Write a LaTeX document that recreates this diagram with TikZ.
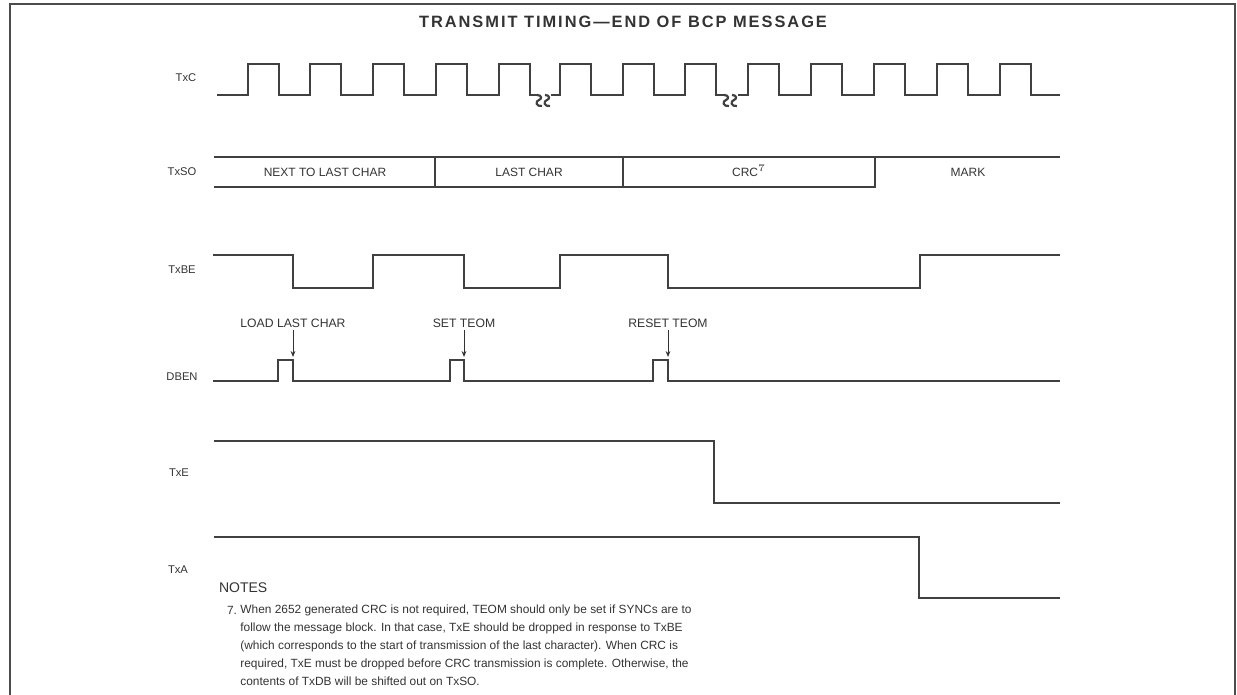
\documentclass[tikz,border=0pt]{standalone}
\usepackage{fontspec}
\setmainfont{Liberation Sans}
\usepackage{tikz}
\usetikzlibrary{arrows.meta, positioning}

\begin{document}
\begin{tikzpicture}[x=0.5pt, y=-0.5pt,
    sig/.style={line width=1.4pt, draw=black!75, line join=miter},
    lbl/.style={font=\fontsize{5.6}{6}\selectfont, text=black!80, inner sep=0pt},
    fld/.style={font=\fontsize{6}{7}\selectfont, text=black!80, inner sep=0pt},
    evt/.style={font=\fontsize{6.1}{7}\selectfont, text=black!80, inner sep=1pt}]
    \useasboundingbox (0,0) rectangle (1237,695);
    \draw[line width=1pt, black!70] (10,695) -- (10,4) -- (1235,4) -- (1235,695);

    \node[font=\bfseries\fontsize{8.2}{9}\selectfont\addfontfeature{LetterSpace=12},
          text=black!80](title) at (623,22) {TRANSMIT TIMING---END OF BCP MESSAGE};

    \node[lbl](lTxC) at (186,78) {TxC};
    \node[lbl](lTxSO) at (182,172) {TxSO};
    \node[lbl](lTxBE) at (182,270) {TxBE};
    \node[lbl](lDBEN) at (182,377) {DBEN};
    \node[lbl](lTxE) at (179,473) {TxE};
    \node[lbl](lTxA) at (178,570) {TxA};

    \draw[sig] (217,95) \foreach \r in {248,310,373,436,499}
        {-- (\r,95) -- (\r,64) -- ({\r+31},64) -- ({\r+31},95)} -- (537,95);
    \draw[sig] (551,95) \foreach \r in {560,623,685}
        {-- (\r,95) -- (\r,64) -- ({\r+31},64) -- ({\r+31},95)} -- (724,95);
    \draw[sig] (738,95) \foreach \r in {748,811,874,937,1000}
        {-- (\r,95) -- (\r,64) -- ({\r+31},64) -- ({\r+31},95)} -- (1060,95);
    \foreach \s in {537,545,724,732}
        \draw[line width=1.1pt, black!75] (\s,95) .. controls ({\s+5},95) and ({\s+5},99) .. ({\s+2},100)
             .. controls ({\s-2},101) and ({\s-1},107) .. ({\s+5},106);

    \draw[sig] (214,157) -- (1060,157);
    \draw[sig] (214,187) -- (875,187) -- (875,157);
    \draw[sig] (435,157) -- (435,187);
    \draw[sig] (623,157) -- (623,187);
    \node[fld](fNext) at (325,172) {NEXT TO LAST CHAR};
    \node[fld](fLast) at (529,172) {LAST CHAR};
    \node[fld](fCrc) at (749,171) {CRC$^{7}$};
    \node[fld](fMark) at (968,172) {MARK};

    \draw[sig] (213,255) -- (293,255) -- (293,288) -- (373,288) -- (373,255) -- (464,255)
        -- (464,288) -- (560,288) -- (560,255) -- (668,255) -- (668,288) -- (920,288)
        -- (920,255) -- (1060,255);

    \draw[sig] (213,381) -- (278,381) -- (278,360) -- (293,360) -- (293,381) -- (450,381)
        -- (450,360) -- (464,360) -- (464,381) -- (653,381) -- (653,360) -- (668,360)
        -- (668,381) -- (1060,381);
    \coordinate (pLoad) at (293,357);
    \coordinate (pSet) at (464,357);
    \coordinate (pReset) at (668,357);
    \node[evt](eLoad) at (293,323) {LOAD LAST CHAR};
    \node[evt](eSet) at (464,323) {SET TEOM};
    \node[evt](eReset) at (668,323) {RESET TEOM};
    \foreach \e/\p in {eLoad/pLoad, eSet/pSet, eReset/pReset}
        \draw[line width=0.5pt, black!80, -{Stealth[length=3pt, width=2.4pt]}]
            (\e.south) -- (\p);

    \draw[sig] (214,441) -- (714,441) -- (714,503) -- (1060,503);
    \draw[sig] (214,537) -- (919,537) -- (919,598) -- (1060,598);

    \node[font=\fontsize{7}{8}\selectfont, text=black!80, anchor=west](notes) at (212,588) {NOTES};
    \node[font=\fontsize{5.95}{9}\selectfont, text=black!80, anchor=west](n7) at (220,610) {7.};
    \node[font=\fontsize{5.95}{9}\selectfont, text=black!80, anchor=north west, align=left,
          inner sep=0pt](note) at (240,604)
         {When 2652 generated CRC is not required, TEOM should only be set if SYNCs are to\\
          follow the message block. In that case, TxE should be dropped in response to TxBE\\
          (which corresponds to the start of transmission of the last character). When CRC is\\
          required, TxE must be dropped before CRC transmission is complete. Otherwise, the\\
          contents of TxDB will be shifted out on TxSO.};
\end{tikzpicture}
\end{document}
